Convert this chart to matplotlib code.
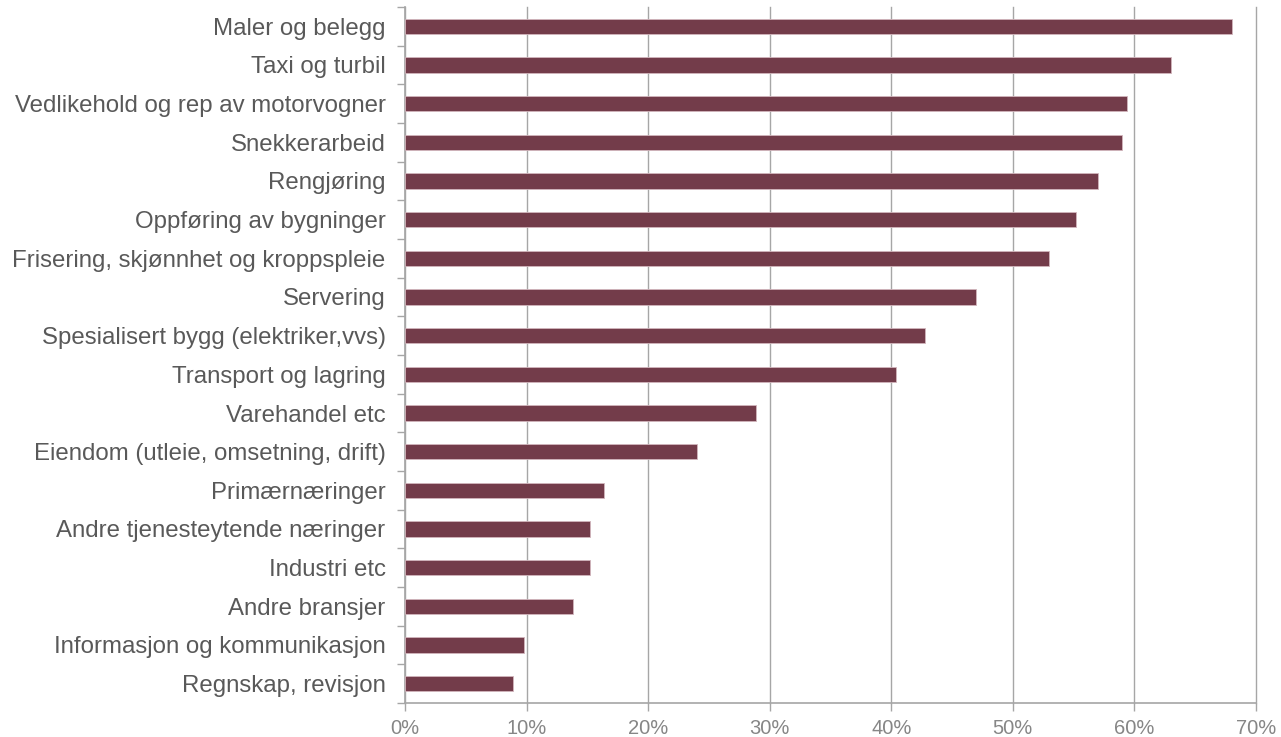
import matplotlib
matplotlib.use("Agg")
import matplotlib.pyplot as plt
from matplotlib.ticker import FixedLocator, PercentFormatter

plt.rcParams['font.family'] = ['Liberation Sans', 'DejaVu Sans']

categories = [
    "Maler og belegg",
    "Taxi og turbil",
    "Vedlikehold og rep av motorvogner",
    "Snekkerarbeid",
    "Rengjøring",
    "Oppføring av bygninger",
    "Frisering, skjønnhet og kroppspleie",
    "Servering",
    "Spesialisert bygg (elektriker,vvs)",
    "Transport og lagring",
    "Varehandel etc",
    "Eiendom (utleie, omsetning, drift)",
    "Primærnæringer",
    "Andre tjenesteytende næringer",
    "Industri etc",
    "Andre bransjer",
    "Informasjon og kommunikasjon",
    "Regnskap, revisjon",
]
values = [68.0, 63.0, 59.4, 59.0, 57.0, 55.2, 53.0, 47.0, 42.8, 40.4,
          28.9, 24.0, 16.4, 15.2, 15.2, 13.8, 9.8, 8.9]
x_ticks = [0, 10, 20, 30, 40, 50, 60, 70]

bar_color = "#733c4a"
axis_gray = "#a6a6a6"
text_gray = "#595959"
tick_text_gray = "#868686"

fig = plt.figure(figsize=(12.81, 7.37), dpi=100)
ax = fig.add_axes([405 / 1281, 34 / 737, 851 / 1281, 696 / 737])

n = len(categories)
ypos = list(range(n))
ax.barh(ypos, values, height=0.4, color=bar_color,
        edgecolor="#d2b6bd", linewidth=0.6, zorder=3)

ax.set_xlim(0, 70)
ax.set_ylim(n - 0.5, -0.5)

# vertical gridlines
ax.xaxis.set_major_locator(FixedLocator(x_ticks))
ax.xaxis.set_major_formatter(PercentFormatter(decimals=0))
ax.grid(axis="x", color=axis_gray, linewidth=1.0, zorder=0)
ax.set_axisbelow(True)
for gl in ax.get_xgridlines():
    gl.set_clip_on(False)

# category labels centred on bars, ticks at the band boundaries
ax.set_yticks(ypos)
ax.set_yticklabels(categories)
ax.set_yticks([i - 0.5 for i in range(n + 1)], minor=True)
ax.tick_params(axis="y", which="major", length=0, pad=14,
               labelsize=17.3, labelcolor=text_gray)
ax.tick_params(axis="y", which="minor", length=6, width=1.0,
               color=axis_gray, direction="out")
ax.tick_params(axis="x", which="major", length=6, width=1.0,
               color=axis_gray, direction="out", pad=5.5,
               labelsize=14.5, labelcolor=tick_text_gray)

for side in ("top", "right"):
    ax.spines[side].set_visible(False)
for side in ("left", "bottom"):
    ax.spines[side].set_color(axis_gray)
    ax.spines[side].set_linewidth(1.2)

fig.savefig("out.png", dpi=100, facecolor="white")
